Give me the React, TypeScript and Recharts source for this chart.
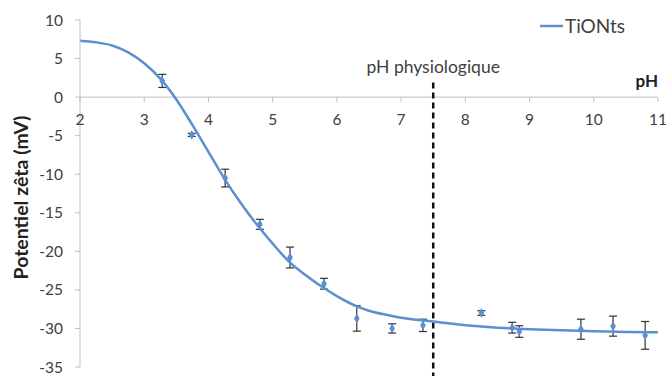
import React from 'react';
import {
  ComposedChart, Line, Scatter, ErrorBar, XAxis, YAxis, ZAxis, ReferenceLine, Label,
} from 'recharts';

const xTicks = [2, 3, 4, 5, 6, 7, 8, 9, 10, 11];
const yTicks = [-35, -30, -25, -20, -15, -10, -5, 0, 5, 10];

// fitted curve
const curvePh = [2, 2.25, 2.5, 2.75, 3, 3.25, 3.5, 3.75, 4, 4.25, 4.5, 4.75, 5, 5.25, 5.5, 5.75, 6, 6.25, 6.5, 6.75, 7, 7.5, 8, 8.5, 9, 9.5, 10, 10.5, 11];
const curveZeta = [7.3, 7.1, 6.7, 5.8, 4.4, 2.4, -0.3, -3.6, -7.1, -10.6, -13.7, -16.5, -19.0, -21.3, -23.0, -24.5, -25.8, -26.9, -27.7, -28.2, -28.6, -29.1, -29.6, -29.9, -30.1, -30.25, -30.35, -30.45, -30.5];

// measured points
const measPh = [3.28, 3.74, 4.26, 4.8, 5.27, 5.8, 6.31, 6.86, 7.34, 8.25, 8.73, 8.84, 9.8, 10.3, 10.8];
const measZeta = [2.1, -4.9, -10.5, -16.5, -20.8, -24.2, -28.7, -30.0, -29.6, -28.0, -29.9, -30.4, -30.1, -29.7, -30.9];
const measErr = [0.85, 0.2, 1.15, 0.65, 1.35, 0.7, 1.65, 0.6, 0.8, 0.3, 0.7, 0.75, 1.3, 1.3, 1.8];

const physioPh = 7.5;
const seriesName = 'TiONts';

const curveData = curvePh.map((x, i) => ({ x, y: curveZeta[i] }));
const measData = measPh.map((x, i) => ({ x, y: measZeta[i], err: measErr[i] }));

const W = 667;
const H = 376;
const M = { top: 20, right: 9, bottom: 8, left: 0 };
const Y_DOMAIN: [number, number] = [-35, 10];
const FONT = 'Lato, "Open Sans", sans-serif';
const BLUE = '#5b8fd1';
const TXT = '#404040';
const X_AXIS_H = 1;
const plotH = H - M.top - M.bottom - X_AXIS_H;
const zeroY = M.top + plotH * (Y_DOMAIN[1] - 0) / (Y_DOMAIN[1] - Y_DOMAIN[0]);

const XTick = (props: any) => {
  const { x, payload } = props;
  return (
    <g>
      <line x1={x} x2={x} y1={zeroY} y2={zeroY + 5} stroke="#bfbfbf" />
      <text x={x} y={zeroY + 28} textAnchor="middle" fill={TXT} fontSize={15.5} fontFamily={FONT}>
        {payload.value}
      </text>
    </g>
  );
};

const YLabel = (p: any) => {
  const vb = p.viewBox;
  const cx = vb.x + 28;
  const cy = vb.y + vb.height / 2 + 4;
  return (
    <text
      x={cx}
      y={cy}
      transform={`rotate(-90, ${cx}, ${cy})`}
      textAnchor="middle"
      fontWeight="bold"
      fontSize={19.5}
      fontFamily={FONT}
      fill="#222"
    >
      Potentiel zêta (mV)
    </text>
  );
};

export default function App() {
  return (
    <div style={{ position: 'absolute', left: 0, top: 0, background: '#fff', width: W, height: H }}>
      <ComposedChart width={W} height={H} margin={M}>
        <XAxis
          dataKey="x"
          type="number"
          domain={[2, 11]}
          ticks={xTicks}
          axisLine={false}
          tickLine={false}
          height={X_AXIS_H}
          tick={XTick}
          interval={0}
          allowDataOverflow
        />
        <YAxis
          type="number"
          domain={Y_DOMAIN}
          ticks={yTicks}
          width={80}
          axisLine={{ stroke: '#bfbfbf' }}
          tickLine={{ stroke: '#bfbfbf' }}
          tickSize={5}
          tickMargin={12}
          interval={0}
          tick={{ fill: TXT, fontSize: 15.5, fontFamily: FONT }}
        >
          <Label content={YLabel} position="insideLeft" />
        </YAxis>
        <ZAxis range={[28, 28]} />
        <ReferenceLine
          y={0}
          stroke="#bfbfbf"
          label={(p: any) => {
            const vb = p.viewBox;
            return (
              <text x={vb.x + vb.width} y={vb.y - 10} textAnchor="end" fontWeight="bold" fontSize={17} fontFamily={FONT} fill="#222">
                pH
              </text>
            );
          }}
        />
        <ReferenceLine
          segment={[{ x: physioPh, y: -36.5 }, { x: physioPh, y: 2 }]}
          ifOverflow="visible"
          stroke="#111"
          strokeWidth={2.5}
          strokeDasharray="6 4"
          label={(p: any) => {
            const vb = p.viewBox;
            return (
              <text x={vb.x} y={vb.y - 9} textAnchor="middle" fontSize={17.5} fontFamily={FONT} fill={TXT}>
                pH physiologique
              </text>
            );
          }}
        />
        <Scatter
          data={measData}
          dataKey="y"
          fill={BLUE}
          shape="diamond"
          legendType="none"
          isAnimationActive={false}
        >
          <ErrorBar dataKey="err" direction="y" width={4} stroke="#333" strokeWidth={1.2} />
        </Scatter>
        <Line
          data={curveData}
          dataKey="y"
          name={seriesName}
          type="monotone"
          stroke={BLUE}
          strokeWidth={2.5}
          dot={false}
          isAnimationActive={false}
        />
      </ComposedChart>
      <div
        style={{
          position: 'absolute', left: 540, top: 14, display: 'flex', alignItems: 'center',
          fontFamily: FONT, fontSize: 19, color: TXT, lineHeight: '24px',
        }}
      >
        <svg width={23} height={4} style={{ marginRight: 2 }}>
          <line x1={0} x2={23} y1={2} y2={2} stroke={BLUE} strokeWidth={2.5} />
        </svg>
        <span>{seriesName}</span>
      </div>
    </div>
  );
}
